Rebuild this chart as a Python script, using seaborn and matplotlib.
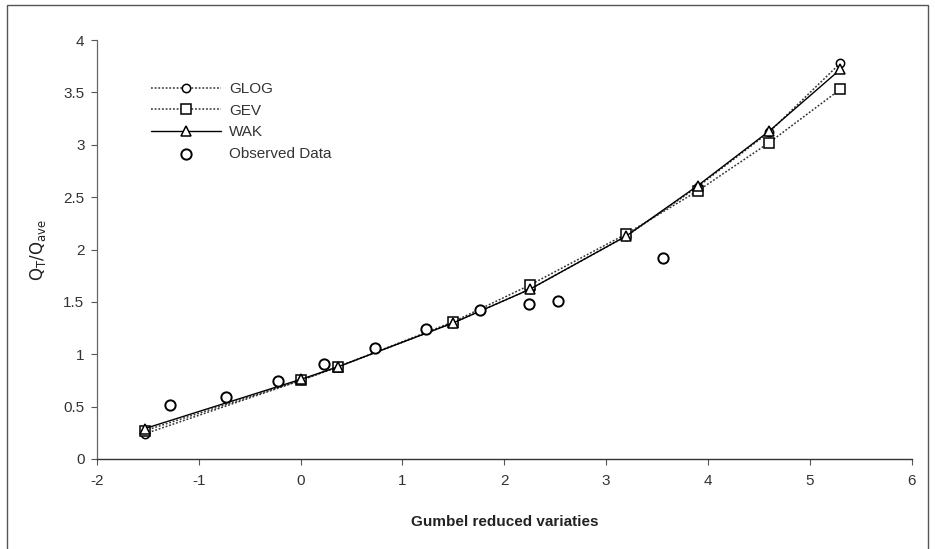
import matplotlib
matplotlib.use("Agg")
import matplotlib.pyplot as plt
import seaborn as sns
import pandas as pd
from matplotlib.patches import Rectangle

sns.set_style("white")
plt.rcParams['font.family'] = ['Liberation Sans', 'DejaVu Sans']

# Fitted distributions (Gumbel reduced variate vs QT/Qave)
x_fit = [-1.53, 0.0, 0.367, 1.5, 2.25, 3.2, 3.9, 4.6, 5.3]
glog = [0.24, 0.75, 0.88, 1.30, 1.62, 2.13, 2.60, 3.12, 3.78]
gev = [0.27, 0.75, 0.88, 1.31, 1.66, 2.15, 2.56, 3.02, 3.53]
wak = [0.29, 0.76, 0.88, 1.30, 1.62, 2.13, 2.61, 3.13, 3.72]

# Observed data
x_obs = [-1.28, -0.73, -0.22, 0.23, 0.73, 1.23, 1.76, 2.24, 2.53, 3.56]
y_obs = [0.52, 0.595, 0.74, 0.905, 1.06, 1.24, 1.42, 1.48, 1.51, 1.92]

x_ticks = [-2, -1, 0, 1, 2, 3, 4, 5, 6]
y_ticks = [0, 0.5, 1, 1.5, 2, 2.5, 3, 3.5, 4]
y_ticklabels = ['0', '0.5', '1', '1.5', '2', '2.5', '3', '3.5', '4']

df_glog = pd.DataFrame({'x': x_fit, 'y': glog})
df_gev = pd.DataFrame({'x': x_fit, 'y': gev})
df_wak = pd.DataFrame({'x': x_fit, 'y': wak})
df_obs = pd.DataFrame({'x': x_obs, 'y': y_obs})

fig = plt.figure(figsize=(9.35, 5.49), dpi=100)
ax = fig.add_axes([0.1037, 0.164, 0.8713, 0.763])

sns.lineplot(data=df_glog, x='x', y='y', ax=ax, color='#333333', linestyle=(0, (1.2, 1.2)),
             linewidth=1.1, marker='o', markersize=6, markerfacecolor='white',
             markeredgecolor='black', markeredgewidth=1.1, label='GLOG')
sns.lineplot(data=df_gev, x='x', y='y', ax=ax, color='#333333', linestyle=(0, (1.2, 1.2)),
             linewidth=1.1, marker='s', markersize=6.5, markerfacecolor='white',
             markeredgecolor='black', markeredgewidth=1.1, label='GEV')
sns.lineplot(data=df_wak, x='x', y='y', ax=ax, color='black', linestyle='-',
             linewidth=1.0, marker='^', markersize=6.5, markerfacecolor='white',
             markeredgecolor='black', markeredgewidth=1.1, label='WAK')
sns.scatterplot(data=df_obs, x='x', y='y', ax=ax, marker='o', s=55, facecolor='white',
                edgecolor='black', linewidth=1.4, label='Observed Data', zorder=5)

ax.set_xlim(-2, 6)
ax.set_ylim(0, 4)
ax.set_xticks(x_ticks)
ax.set_xticklabels([str(t) for t in x_ticks])
ax.set_yticks(y_ticks)
ax.set_yticklabels(y_ticklabels)
ax.tick_params(axis='both', direction='out', length=4, width=0.8, colors='#555555',
               labelsize=11, labelcolor='#333333', left=True, bottom=True)
ax.tick_params(axis='x', pad=7)
ax.tick_params(axis='y', pad=5)
for s in ['top', 'right']:
    ax.spines[s].set_visible(False)
ax.spines['left'].set_color('#666666')
ax.spines['bottom'].set_color('#333333')
ax.spines['left'].set_linewidth(0.9)
ax.spines['bottom'].set_linewidth(1.0)

ax.set_xlabel('Gumbel reduced variaties', fontsize=11, fontweight='bold', color='#222222', labelpad=19)
ax.set_ylabel(r'$\mathrm{Q_T/Q_{ave}}$', fontsize=12, color='#222222', labelpad=11)

leg = ax.legend(loc='upper left', bbox_to_anchor=(0.066, 0.90), frameon=False, fontsize=11,
                handlelength=4.6, handletextpad=0.55, labelspacing=0.5, borderaxespad=0,
                borderpad=0)
for t in leg.get_texts():
    t.set_color('#333333')

fig.patches.append(Rectangle((7 / 935, -0.01), 921 / 935, 1 - 5 / 549 + 0.01,
                             transform=fig.transFigure, fill=False, edgecolor='#555555',
                             linewidth=1.0))

fig.savefig('out.png', dpi=100)
